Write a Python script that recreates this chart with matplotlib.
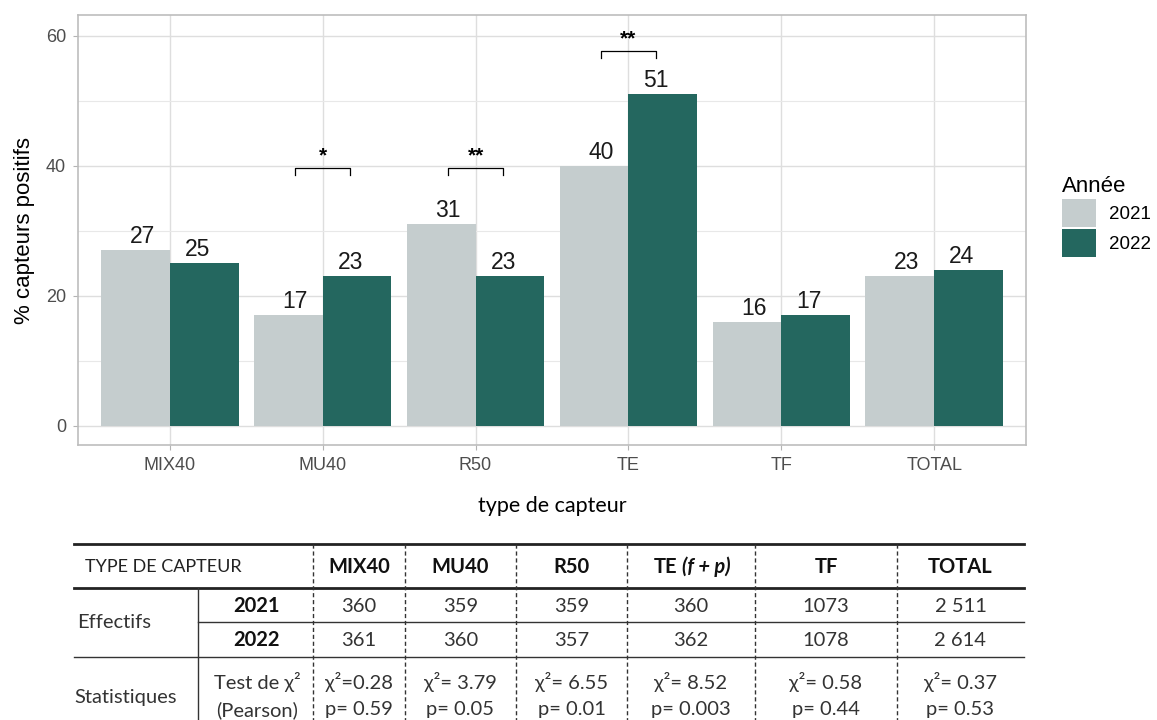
import numpy as np
import matplotlib
matplotlib.use("Agg")
import matplotlib.pyplot as plt
from matplotlib.patches import Patch

# Data
categories = ['MIX40', 'MU40', 'R50', 'TE', 'TF', 'TOTAL']
pct_2021 = [27, 17, 31, 40, 16, 23]
pct_2022 = [25, 23, 23, 51, 17, 24]
years = ['2021', '2022']

# significance brackets: category index, stars, bracket height
sig_idx = [1, 2, 3]
sig_stars = ['*', '**', '**']
sig_height = [39.6, 39.6, 57.6]

# table
table_headers = ['MIX40', 'MU40', 'R50', 'TE', 'TF', 'TOTAL']
n_2021 = ['360', '359', '359', '360', '1073', '2 511']
n_2022 = ['361', '360', '357', '362', '1078', '2 614']
chi2 = ['0.28', '3.79', '6.55', '8.52', '0.58', '0.37']
pvals = ['0.59', '0.05', '0.01', '0.003', '0.44', '0.53']

c2021 = '#C5CDCE'
c2022 = '#24675F'
W, H = 1157, 720

plt.rcParams['font.family'] = ['Liberation Sans', 'DejaVu Sans']

fig = plt.figure(figsize=(W / 100, H / 100), dpi=100)
ax = fig.add_axes([78 / W, 1 - 445 / H, 948 / W, 430 / H])

x = np.arange(len(categories))
bw = 0.45
ax.bar(x - bw / 2, pct_2021, width=bw, color=c2021, zorder=2)
ax.bar(x + bw / 2, pct_2022, width=bw, color=c2022, zorder=2)

for i in range(len(categories)):
    ax.text(x[i] - 0.18, pct_2021[i] + 0.3, str(pct_2021[i]), ha='center', va='bottom',
            fontsize=16.5, color='#1a1a1a', zorder=3)
    ax.text(x[i] + 0.18, pct_2022[i] + 0.3, str(pct_2022[i]), ha='center', va='bottom',
            fontsize=16.5, color='#1a1a1a', zorder=3)

for i, s, h in zip(sig_idx, sig_stars, sig_height):
    ax.plot([x[i] - 0.18, x[i] - 0.18, x[i] + 0.18, x[i] + 0.18],
            [h - 1.0, h, h, h - 1.0], color='black', lw=0.9, zorder=3)
    ax.text(x[i], h + 0.5, s, ha='center', va='bottom', fontsize=15,
            fontweight='bold', color='black')

ax.set_xlim(-0.6, 5.6)
ax.set_ylim(-3.0, 63.2)
ax.set_yticks([0, 20, 40, 60])
ax.set_yticks([10, 30, 50], minor=True)
ax.set_xticks(x)
ax.set_xticklabels(categories)
ax.grid(which='major', color='#DEDEDE', lw=1.0, zorder=0)
ax.grid(which='minor', axis='y', color='#E8E8E8', lw=0.8, zorder=0)
ax.tick_params(which='major', length=3.5, color='#B3B3B3', labelsize=13,
               labelcolor='#4D4D4D', pad=5)
ax.tick_params(which='minor', length=0)
for sp in ax.spines.values():
    sp.set_color('#BDBDBD')
    sp.set_linewidth(1.2)

ax.set_ylabel('% capteurs positifs', fontsize=16, labelpad=8)
ax.set_xlabel('type de capteur', fontsize=15.5, family=['Lato', 'DejaVu Sans'], labelpad=16)

handles = [Patch(facecolor=c2021, edgecolor='none'), Patch(facecolor=c2022, edgecolor='none')]
leg = fig.legend(handles, years, title='Année', loc='upper left',
                 bbox_to_anchor=(1062 / W, 1 - 176 / H), frameon=False, fontsize=13.5,
                 title_fontsize=16, handlelength=1.8, handleheight=1.9,
                 labelspacing=0.12, handletextpad=0.7, borderpad=0, borderaxespad=0,
                 alignment='left')

# table drawn in pixel coordinates
tx = fig.add_axes([0, 0, 1, 1])
tx.set_xlim(0, W)
tx.set_ylim(H, 0)
tx.axis('off')

tfont = ['Lato', 'DejaVu Sans']
fs = 14.5
left, right = 74, 1024
tx.plot([left, right], [544, 544], color='#222222', lw=2.0)
tx.plot([left, right], [588, 588], color='#222222', lw=2.0)
tx.plot([198, right], [622, 622], color='#333333', lw=1.0)
tx.plot([left, right], [657, 657], color='#333333', lw=1.0)
tx.plot([198, 198], [588, 720], color='#333333', lw=1.0)
col_edges = [313, 405, 516, 627, 755, 897, right]
for xe in col_edges[:-1]:
    tx.plot([xe, xe], [544, 720], color='#333333', lw=1.0, dashes=(3, 2))

tx.text(85, 567, 'TYPE DE CAPTEUR', family=tfont, fontsize=13, color='#222222',
        ha='left', va='center')
tx.text(77, 623, 'Effectifs', family=tfont, fontsize=fs, color='#333333',
        ha='left', va='center')
tx.text(74, 697, 'Statistiques', family=tfont, fontsize=fs, color='#333333',
        ha='left', va='center')
tx.text(257, 606, '2021', family=tfont, fontsize=fs, fontweight='bold', color='#111111',
        ha='center', va='center')
tx.text(257, 640, '2022', family=tfont, fontsize=fs, fontweight='bold', color='#111111',
        ha='center', va='center')
tx.text(257, 682, 'Test de χ²', family=tfont, fontsize=fs, color='#333333',
        ha='center', va='center')
tx.text(257, 710, '(Pearson)', family=tfont, fontsize=fs, color='#333333',
        ha='center', va='center')

centers = [(col_edges[j] + col_edges[j + 1]) / 2 for j in range(len(table_headers))]
for j, cx in enumerate(centers):
    if table_headers[j] == 'TE':
        tx.text(cx - 14, 567, 'TE', family=tfont, fontsize=fs, fontweight='bold',
                color='#111111', ha='right', va='center')
        tx.text(cx - 9, 567, '(f + p)', family=tfont, fontsize=fs, fontweight='bold',
                style='italic', color='#111111', ha='left', va='center')
    else:
        tx.text(cx, 567, table_headers[j], family=tfont, fontsize=fs, fontweight='bold',
                color='#111111', ha='center', va='center')
    tx.text(cx, 606, n_2021[j], family=tfont, fontsize=fs, color='#333333',
            ha='center', va='center')
    tx.text(cx, 640, n_2022[j], family=tfont, fontsize=fs, color='#333333',
            ha='center', va='center')
    tx.text(cx, 682, 'χ²= ' + chi2[j] if j > 0 else 'χ²=' + chi2[j], family=tfont,
            fontsize=fs, color='#333333', ha='center', va='center')
    tx.text(cx, 710, 'p= ' + pvals[j], family=tfont, fontsize=fs, color='#333333',
            ha='center', va='center')

fig.savefig('out.png', dpi=100)
